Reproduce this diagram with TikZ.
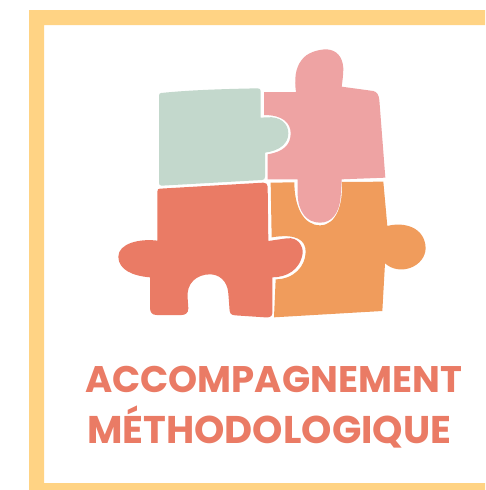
\documentclass[tikz,border=0pt]{standalone}
\usepackage{fontspec}
\setmainfont{Poppins}
\definecolor{framec}{HTML}{FFD384}
\definecolor{greenp}{HTML}{C3D8CC}
\definecolor{pinkp}{HTML}{EEA3A3}
\definecolor{orangep}{HTML}{F09C5C}
\definecolor{redp}{HTML}{EA7B65}
\tikzset{titletext/.style={text=redp,font=\bfseries\fontsize{37}{40}\selectfont,anchor=base west,inner sep=0pt},
titletextb/.style={titletext,font=\bfseries\fontsize{38.6}{40}\selectfont}}
\begin{document}
\begin{tikzpicture}[x=1pt,y=-1pt]
\useasboundingbox (0,0) rectangle (485,490);
\fill[white] (0,0) rectangle (485,490);
\fill[framec,even odd rule] (29,10) -- (485,10) -- (485,25) -- (44,25) -- (44,483) -- (485,483) -- (485,490) -- (29,490) -- cycle;
\begin{scope}[shift={(110pt,-40pt)},x=0.33333pt,y=-0.33333pt]
% green
\fill[greenp] (147,168) .. controls (147,162) and (149,160) .. (153,159) .. controls (240,150) and (340,147) .. (443,145) .. controls (449,145) and (452,148) .. (452,153) -- (452,233) -- (470,232) .. controls (510,228) and (535,250) .. (535,280) .. controls (535,310) and (510,332) .. (465,338) -- (465,410) .. controls (465,417) and (462,420) .. (456,420) -- (155,437) .. controls (149,437) and (147,434) .. (147,428) -- cycle;
% pink
\fill[pinkp] (462,156) -- (558,156) .. controls (553,120) and (555,85) .. (575,60) .. controls (590,38) and (625,28) .. (650,28) .. controls (680,30) and (698,50) .. (700,85) .. controls (700,105) and (697,125) .. (695,140) -- (790,153) .. controls (802,156) and (806,165) .. (808,180) -- (826,413) -- (695,418) -- (692,470) .. controls (688,520) and (665,548) .. (630,548) .. controls (590,548) and (563,515) .. (563,460) -- (563,418) -- (473,418) -- (473,343) .. controls (520,335) and (542,315) .. (542,280) .. controls (542,250) and (520,225) .. (462,225) -- cycle;
% orange
\fill[orangep] (482,428) -- (553,427) .. controls (553,500) and (580,556) .. (630,556) .. controls (680,556) and (700,490) .. (695,426) -- (820,425) -- (832,558) .. controls (880,545) and (945,560) .. (947,625) .. controls (945,680) and (870,710) .. (825,670) -- (817,813) -- (492,832) -- (497,718) .. controls (550,718) and (587,680) .. (587,635) .. controls (587,600) and (560,580) .. (485,592) -- cycle;
% red
\fill[redp] (142,455) .. controls (142,448) and (145,446) .. (150,446) -- (460,428) .. controls (468,428) and (473,432) .. (473,440) -- (475,603) -- (530,595) .. controls (565,590) and (580,620) .. (578,640) .. controls (570,690) and (530,712) .. (487,712) -- (487,820) .. controls (487,830) and (475,834) .. (465,832) -- (375,826) .. controls (362,825) and (358,820) .. (358,800) -- (355,760) .. controls (352,720) and (325,703) .. (300,703) .. controls (260,703) and (228,730) .. (233,775) -- (235,805) .. controls (235,820) and (225,825) .. (215,825) -- (140,825) .. controls (127,825) and (120,818) .. (120,803) -- (120,712) .. controls (70,708) and (25,690) .. (25,650) .. controls (25,610) and (90,595) .. (142,602) -- cycle;
\end{scope}
\node[titletext] (l1) at (85,392.7) {ACCOMPAGNEMENT};
\node[titletextb] (l2) at (87,443) {MÉTHODOLOGIQUE};
\end{tikzpicture}
\end{document}
